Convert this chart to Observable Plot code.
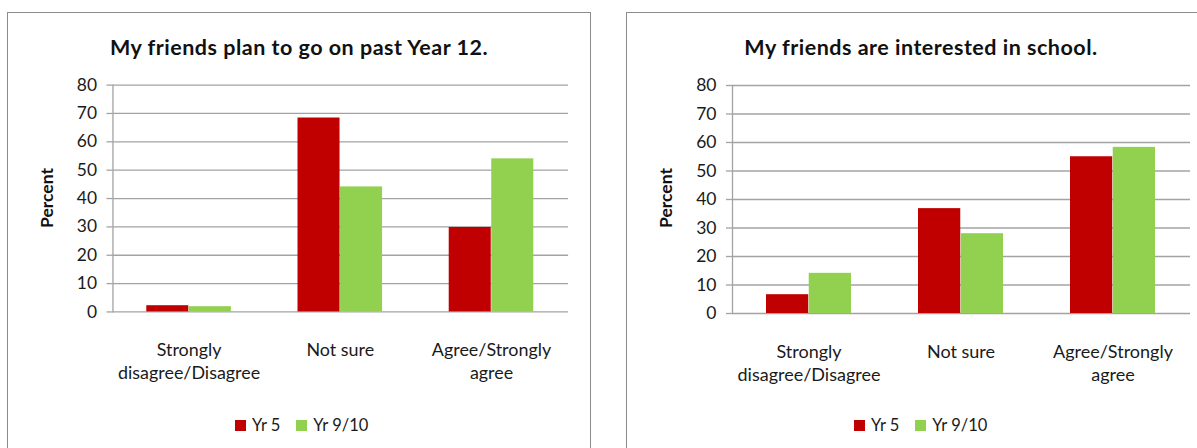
<!DOCTYPE html>
<html>
<head>
<meta charset="utf-8">
<script src="https://cdn.jsdelivr.net/npm/d3@7"></script>
<script src="https://cdn.jsdelivr.net/npm/@observablehq/plot@0.6"></script>
<style>
  html, body { margin: 0; padding: 0; background: #fff; width: 1197px; height: 448px; overflow: hidden; }
  body { position: relative; font-family: Lato, "Open Sans", sans-serif; color: #222; }
  .panel { position: absolute; top: 12px; width: 584px; height: 450px; border: 1.5px solid #8c8c8c; background: #fff; box-sizing: border-box; }
  .title { position: absolute; left: 0; right: 0; top: 19px; height: 30px; line-height: 30px; text-align: center; font-weight: bold; font-size: 21.5px; letter-spacing: 0.5px; color: #111; }
  .ylabel { position: absolute; width: 120px; height: 20px; line-height: 20px; text-align: center; font-weight: bold; font-size: 17.5px; color: #111; transform: rotate(-90deg); }
  .plot { position: absolute; left: -1.5px; top: -1.5px; }
  .legend { position: absolute; top: 402px; height: 20px; line-height: 20px; font-size: 16.5px; color: #1a1a1a; display: flex; align-items: center; }
  .legend .sw { display: inline-block; width: 11px; height: 11px; margin-right: 6px; }
  .legend .item { display: flex; align-items: center; margin-right: 16px; }
</style>
</head>
<body>
<div id="left" class="panel" style="left:7px"></div>
<div id="right" class="panel" style="left:626px; width:590px"></div>
<script>
// ---- data ----
const categories = ["Strongly disagree/Disagree", "Not sure", "Agree/Strongly agree"];
const tickLabels = ["Strongly\ndisagree/Disagree", "Not sure", "Agree/Strongly\nagree"];
const seriesNames = ["Yr 5", "Yr 9/10"];
const seriesColors = ["#C00000", "#92D050"];
const yTicks = [0, 10, 20, 30, 40, 50, 60, 70, 80];

const planTitle = "My friends plan to go on past Year 12.";
const planYr5 = [2.2, 68.4, 29.8];
const planYr910 = [1.85, 44.1, 54.0];

const interestTitle = "My friends are interested in school.";
const interestYr5 = [6.6, 36.8, 55.0];
const interestYr910 = [14.1, 28.0, 58.3];

// ---- drawing ----
function drawPanel(el, title, yr5, yr910) {
  const W = 585, H = 400, ml = 106, mr = 21, mt = 73, mb = 99;
  const pi = 0.44, po = 0.22;
  const step = (W - ml - mr) / (categories.length - pi + 2 * po);
  const bw = step * (1 - pi);

  const rows5 = categories.map((c, i) => ({category: c, value: yr5[i]}));
  const rows910 = categories.map((c, i) => ({category: c, value: yr910[i]}));

  const t = document.createElement("div");
  t.className = "title";
  t.textContent = title;
  el.appendChild(t);

  const chart = Plot.plot({
    width: W, height: H,
    marginLeft: ml, marginRight: mr, marginTop: mt, marginBottom: mb,
    style: {fontFamily: "Lato, 'Open Sans', sans-serif", background: "transparent", overflow: "visible"},
    x: {domain: categories, type: "band", paddingInner: pi, paddingOuter: po, axis: null},
    y: {domain: [0, 80], axis: null},
    marks: [
      Plot.ruleY(yTicks, {stroke: "#a3a3a3", strokeWidth: 1.3}),
      Plot.frame({anchor: "left", stroke: "#a3a3a3", strokeWidth: 1.3}),
      Plot.axisY({ticks: yTicks, tickSize: 6, tickPadding: 10, stroke: "#a3a3a3", strokeWidth: 1.3, fontSize: 17.5, fill: "#1a1a1a", label: null, tickFormat: d => String(d)}),
      Plot.barY(rows5, {x: "category", y: "value", fill: seriesColors[0], insetRight: bw / 2}),
      Plot.barY(rows910, {x: "category", y: "value", fill: seriesColors[1], insetLeft: bw / 2}),
      Plot.text(categories, {x: d => d, text: (d, i) => tickLabels[i], frameAnchor: "bottom", dy: 28, lineAnchor: "top", lineHeight: 1.28, fontSize: 18, fill: "#1a1a1a"})
    ]
  });
  chart.classList.add("plot");
  el.appendChild(chart);

  const yl = document.createElement("div");
  yl.className = "ylabel";
  yl.textContent = "Percent";
  yl.style.left = (39 - 60) + "px";
  yl.style.top = (185 - 10) + "px";
  el.appendChild(yl);

  const lg = document.createElement("div");
  lg.className = "legend";
  lg.style.left = "227px";
  seriesNames.forEach((s, i) => {
    const it = document.createElement("span");
    it.className = "item";
    const sw = document.createElement("span");
    sw.className = "sw";
    sw.style.background = seriesColors[i];
    it.appendChild(sw);
    it.appendChild(document.createTextNode(s));
    lg.appendChild(it);
  });
  el.appendChild(lg);
}

drawPanel(document.getElementById("left"), planTitle, planYr5, planYr910);
drawPanel(document.getElementById("right"), interestTitle, interestYr5, interestYr910);
</script>
</body>
</html>
